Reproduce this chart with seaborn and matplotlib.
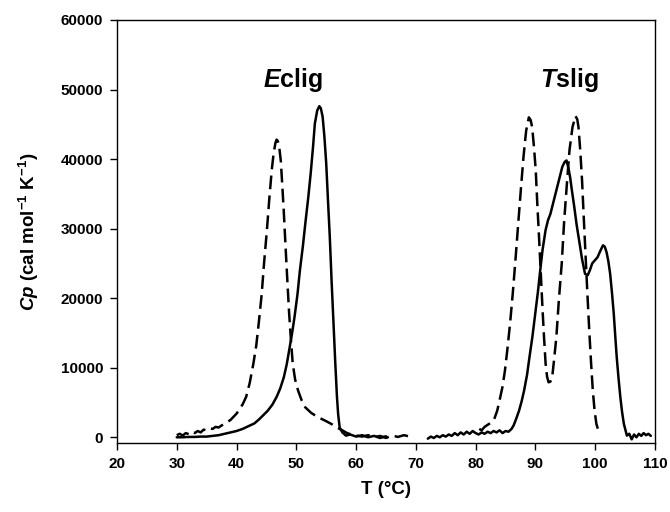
import numpy as np
import pandas as pd
import matplotlib
matplotlib.use("Agg")
import matplotlib.pyplot as plt
import seaborn as sns

# ---- data ----
ec_dash_T = [30, 30.5, 31, 31.5, 32, 32.5, 33, 33.5, 34, 34.5, 35, 35.5, 36, 36.5, 37, 37.5, 38, 39, 40, 41,
             41.6, 42.2, 42.8, 43.3, 43.7, 44.2, 44.6, 45.1, 45.5, 45.9, 46.2, 46.5, 46.7, 46.9, 47.1, 47.4,
             47.6, 47.9, 48.2, 48.5, 48.8, 49.1, 49.4, 49.8, 50.3, 50.9, 51.5, 52.5, 53.6, 54.8, 55.9, 56.8,
             57.7, 58.5, 59.2, 60.1, 61, 62, 63, 64, 65, 66, 67, 68, 69]
ec_dash_Cp = [300, 500, 250, 600, 450, 800, 600, 900, 700, 1100, 1000, 1300, 1200, 1500, 1400, 1700, 1900, 2500,
              3400, 4700, 5800, 7800, 10500, 13200, 16300, 20500, 25000, 30000, 34500, 38500, 40800, 42300,
              42800, 42600, 42000, 39800, 37000, 32500, 27400, 22500, 17800, 14000, 10600, 8300, 6700, 5300,
              4300, 3500, 2900, 2400, 1900, 1400, 1000, 600, 400, 240, 100, 300, 0, 200, -100, 250, 50, 300, 100]

ec_solid_T = [30, 31, 32, 33, 34, 35, 36, 37, 38, 39, 40, 41, 42, 43, 43.8, 44.5, 45.2, 46, 46.7, 47.3, 47.9,
              48.4, 48.8, 49.3, 49.7, 50.2, 50.6, 51.1, 51.5, 52, 52.4, 52.8, 53.1, 53.5, 53.85, 54.1, 54.4,
              54.7, 55.0, 55.3, 55.6, 55.9, 56.2, 56.5, 56.8, 57.0, 57.25, 57.7, 58.3, 59, 60, 61, 62, 63, 64, 65]
ec_solid_Cp = [0, 0, 50, 50, 100, 100, 200, 300, 500, 700, 900, 1200, 1600, 2000, 2600, 3200, 3800, 4700, 5800,
               7000, 8600, 10500, 12500, 15000, 17300, 20600, 24000, 27500, 30700, 34500, 37900, 41800, 45100,
               47000, 47600, 47300, 46100, 43200, 39400, 34000, 28800, 22500, 16800, 11000, 5800, 3300, 1400,
               700, 240, 400, 100, 300, 0, 200, -100, 150]

ts_solid_T = [72, 72.5, 73, 73.5, 74, 74.5, 75, 75.5, 76, 76.5, 77, 77.5, 78, 78.5, 79, 79.5, 80, 80.5, 81, 81.5,
              82, 82.5, 83, 83.5, 84, 84.5, 85, 85.5, 86, 86.35, 86.8, 87.25, 87.7, 88.1, 88.6, 89.0, 89.5, 89.9,
              90.4, 90.8, 91.2, 91.7, 92.1, 92.5, 93, 93.5, 94, 94.5, 94.9, 95.2, 95.5, 95.8, 96.1, 96.5, 96.9,
              97.4, 97.8, 98.3, 98.75, 99.1, 99.5, 100, 100.4, 100.8, 101.3, 101.6, 101.9, 102.2, 102.5, 102.8,
              103.1, 103.35, 103.6, 103.9, 104.2, 104.5, 104.8, 105.3, 105.7, 106.1, 106.5, 106.9, 107.3, 107.7,
              108.1, 108.5, 108.9, 109.3]
ts_solid_Cp = [-200, 100, -100, 200, 0, 300, 100, 400, 200, 600, 300, 700, 400, 800, 500, 900, 600, 400, 700, 500,
               800, 600, 900, 700, 1000, 600, 900, 800, 1200, 1700, 2700, 3800, 5200, 6700, 9000, 11500, 14500,
               17300, 20800, 24000, 27000, 29800, 31200, 32100, 33800, 35500, 37200, 38900, 39600, 39800, 38800,
               37400, 35500, 33100, 30500, 27800, 25600, 23500, 23300, 24000, 25000, 25500, 25900, 26700, 27600,
               27400, 26600, 25300, 23500, 20800, 17800, 14600, 11500, 8500, 5800, 3600, 1900, 240, 500, -300,
               400, 0, 500, 200, 600, 300, 500, 200]

ts_dash_T = [80.6, 81, 81.5, 82.2, 82.7, 83.1, 83.6, 84.0, 84.5, 84.9, 85.3, 85.75, 86.2, 86.65, 87.1, 87.55, 88.0,
             88.45, 88.9, 89.2, 89.45, 89.75, 90.05, 90.3, 90.6, 90.9, 91.2, 91.45, 91.7, 91.95, 92.2, 92.5, 92.8,
             93.1, 93.5, 93.9, 94.4, 94.8, 95.3, 95.7, 96.2, 96.7, 97.0, 97.2, 97.5, 97.8, 98.1, 98.4, 98.7, 99.0,
             99.3, 99.6, 99.9, 100.2, 100.7]
ts_dash_Cp = [1200, 1000, 1500, 1900, 2200, 2600, 3800, 5300, 7300, 9600, 12600, 16300, 20600, 25400, 30500, 35500,
              40300, 44100, 46000, 45600, 44600, 41800, 38400, 33800, 28800, 23500, 18200, 14200, 10600, 8700, 7900,
              8000, 8600, 11000, 14400, 19500, 25000, 31000, 36900, 41300, 44600, 46200, 45700, 44600, 41200, 36900,
              31300, 25900, 20500, 15400, 10800, 6700, 3800, 1900, 500]

x_ticks = [20, 30, 40, 50, 60, 70, 80, 90, 100, 110]
y_ticks = [0, 10000, 20000, 30000, 40000, 50000, 60000]
labels = ["Eclig", "Tslig"]

# ---- style ----
sns.set_style("ticks")
plt.rcParams["font.family"] = ["Liberation Sans", "DejaVu Sans"]
plt.rcParams["font.weight"] = "bold"
plt.rcParams["text.color"] = "black"
plt.rcParams["axes.labelcolor"] = "black"
plt.rcParams["xtick.color"] = "black"
plt.rcParams["ytick.color"] = "black"
plt.rcParams["axes.edgecolor"] = "black"
plt.rcParams["mathtext.fontset"] = "custom"
plt.rcParams["mathtext.rm"] = "Liberation Sans:bold"
plt.rcParams["mathtext.bf"] = "Liberation Sans:bold"
plt.rcParams["mathtext.it"] = "Liberation Sans:italic:bold"
plt.rcParams["mathtext.default"] = "rm"

fig = plt.figure(figsize=(6.70, 5.12), dpi=100)
ax = fig.add_axes([0.1746, 0.1348, 0.8030, 0.8262])

lw = 1.8
def draw(T, Cp, dashed):
    df = pd.DataFrame({"T": T, "Cp": Cp})
    sns.lineplot(data=df, x="T", y="Cp", ax=ax, color="black", lw=lw,
                 estimator=None, sort=False,
                 linestyle="--" if dashed else "-")
    line = ax.get_lines()[-1]
    if dashed:
        line.set_dashes((5.5, 2.5))

draw(ec_dash_T, ec_dash_Cp, True)
draw(ec_solid_T, ec_solid_Cp, False)
draw(ts_dash_T, ts_dash_Cp, True)
draw(ts_solid_T, ts_solid_Cp, False)

ax.set_xlim(20, 110)
ax.set_ylim(-820, 60000)
ax.set_xticks(x_ticks)
ax.set_yticks(y_ticks)
ax.set_xticklabels([str(v) for v in x_ticks], fontsize=11, fontweight="bold", color="black")
ax.set_yticklabels([str(v) for v in y_ticks], fontsize=11, fontweight="bold", color="black")
ax.tick_params(axis="both", direction="out", length=5, width=1, pad=5, color="black")
for s in ax.spines.values():
    s.set_visible(True)
    s.set_linewidth(1.0)
    s.set_color("black")

ax.set_xlabel("T (°C)", fontsize=13.5, fontweight="bold", labelpad=7, color="black")
ax.set_ylabel(r"$\mathit{Cp}$ (cal mol$^{\mathrm{-1}}$ K$^{\mathrm{-1}}$)", fontsize=13.5,
              fontweight="bold", labelpad=14, color="black")

ax.text(49.4, 51300, r"$\mathit{E}$clig", fontsize=18, fontweight="bold", ha="center", va="center", color="black")
ax.text(95.7, 51300, r"$\mathit{T}$slig", fontsize=18, fontweight="bold", ha="center", va="center", color="black")

fig.savefig("out.png", dpi=100)
